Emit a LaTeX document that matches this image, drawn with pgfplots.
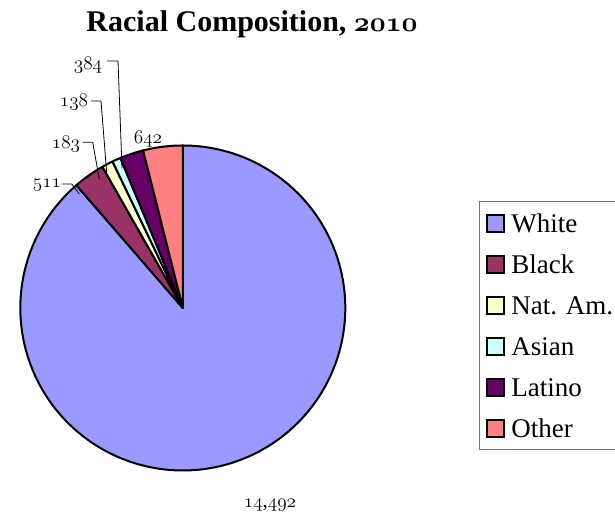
\documentclass[border=0pt]{standalone}
\usepackage{fontspec}
\setmainfont{Liberation Serif}
\usepackage{pgfplots}
\pgfplotsset{compat=1.18}
\definecolor{cWhite}{HTML}{9999FF}
\definecolor{cBlack}{HTML}{993366}
\definecolor{cNat}{HTML}{FFFFCC}
\definecolor{cAsian}{HTML}{CCFFFF}
\definecolor{cLatino}{HTML}{660066}
\definecolor{cOther}{HTML}{FF8080}
\newcommand\osf[1]{{\fontencoding{OML}\fontfamily{cmm}\fontshape{it}\selectfont #1}}
\begin{document}
\begin{tikzpicture}[x=0.75pt,y=0.75pt]
% data values
\def\vWhite{14492}
\def\vBlack{511}
\def\vNat{183}
\def\vAsian{138}
\def\vLatino{384}
\def\vOther{642}
\pgfmathsetmacro\tot{\vWhite+\vBlack+\vNat+\vAsian+\vLatino+\vOther}
\pgfmathsetmacro\aA{90}
\pgfmathsetmacro\aB{\aA-360*(\vWhite/\tot)}
\pgfmathsetmacro\aC{\aB-360*(\vBlack/\tot)}
\pgfmathsetmacro\aD{\aC-360*(\vNat/\tot)}
\pgfmathsetmacro\aE{\aD-360*(\vAsian/\tot)}
\pgfmathsetmacro\aF{\aE-360*(\vLatino/\tot)}
\pgfmathsetmacro\aG{\aF-360*(\vOther/\tot)}
\begin{axis}[at={(12.5,28)},anchor=south west,scale only axis,
  width=243.75pt,height=243.75pt,xmin=-1,xmax=1,ymin=-1,ymax=1,
  hide axis,clip=false]
\addplot[fill=cWhite,draw=black,line width=1.5pt,line join=round,domain=\aB:\aA,samples=200,variable=\t] ({cos(\t)},{sin(\t)}) -- (axis cs:0,0) -- cycle;
\addplot[fill=cBlack,draw=black,line width=1.5pt,line join=round,domain=\aC:\aB,samples=20,variable=\t] ({cos(\t)},{sin(\t)}) -- (axis cs:0,0) -- cycle;
\addplot[fill=cNat,draw=black,line width=1.5pt,line join=round,domain=\aD:\aC,samples=10,variable=\t] ({cos(\t)},{sin(\t)}) -- (axis cs:0,0) -- cycle;
\addplot[fill=cAsian,draw=black,line width=1.5pt,line join=round,domain=\aE:\aD,samples=10,variable=\t] ({cos(\t)},{sin(\t)}) -- (axis cs:0,0) -- cycle;
\addplot[fill=cLatino,draw=black,line width=1.5pt,line join=round,domain=\aF:\aE,samples=15,variable=\t] ({cos(\t)},{sin(\t)}) -- (axis cs:0,0) -- cycle;
\addplot[fill=cOther,draw=black,line width=1.5pt,line join=round,domain=\aG:\aF,samples=20,variable=\t] ({cos(\t)},{sin(\t)}) -- (axis cs:0,0) -- cycle;
\end{axis}
% title
\node[anchor=base,inner sep=0,font=\bfseries\fontsize{22.5}{27}\selectfont] at (252,484) {Racial Composition, \osf{2010}};
% data labels
\begin{scope}[every node/.style={inner sep=0,font=\fontsize{15.75}{18}\selectfont}]
\node at (88,451) {\osf{384}};
\node at (74,414) {\osf{138}};
\node at (66,372) {\osf{183}};
\node at (47,331) {\osf{511}};
\node at (148,376.5) {\osf{642}};
\node at (270,11) {\osf{14},\osf{492}};
\end{scope}
\begin{scope}[line width=0.6pt]
\draw (107,455) -- (118,455) -- (122,348);
\draw (91,415) -- (101,415) -- (107,339.3);
\draw (82.7,373.7) -- (92.7,373.7) -- (99.3,336.7);
\draw (61.7,332) -- (71.7,332) -- (79.3,322);
\end{scope}
% legend
\draw[draw=black!55,line width=0.75pt] (479,314) rectangle (660,66);
\begin{scope}[every node/.style={anchor=base west,inner sep=0,font=\fontsize{20.25}{24}\selectfont}]
\foreach \c/\t [count=\k from 0] in {cWhite/White,cBlack/Black,cNat/Nat. Am.,cAsian/Asian,cLatino/Latino,cOther/Other}{
  \filldraw[fill=\c,draw=black,line width=1.2pt] (487,{284-41*\k}) rectangle (504,{301-41*\k});
  \node at (511,{283-41*\k}) {\t};
}
\end{scope}
\pgfresetboundingbox
\useasboundingbox (0,0) rectangle (615,516);
\end{tikzpicture}
\end{document}
